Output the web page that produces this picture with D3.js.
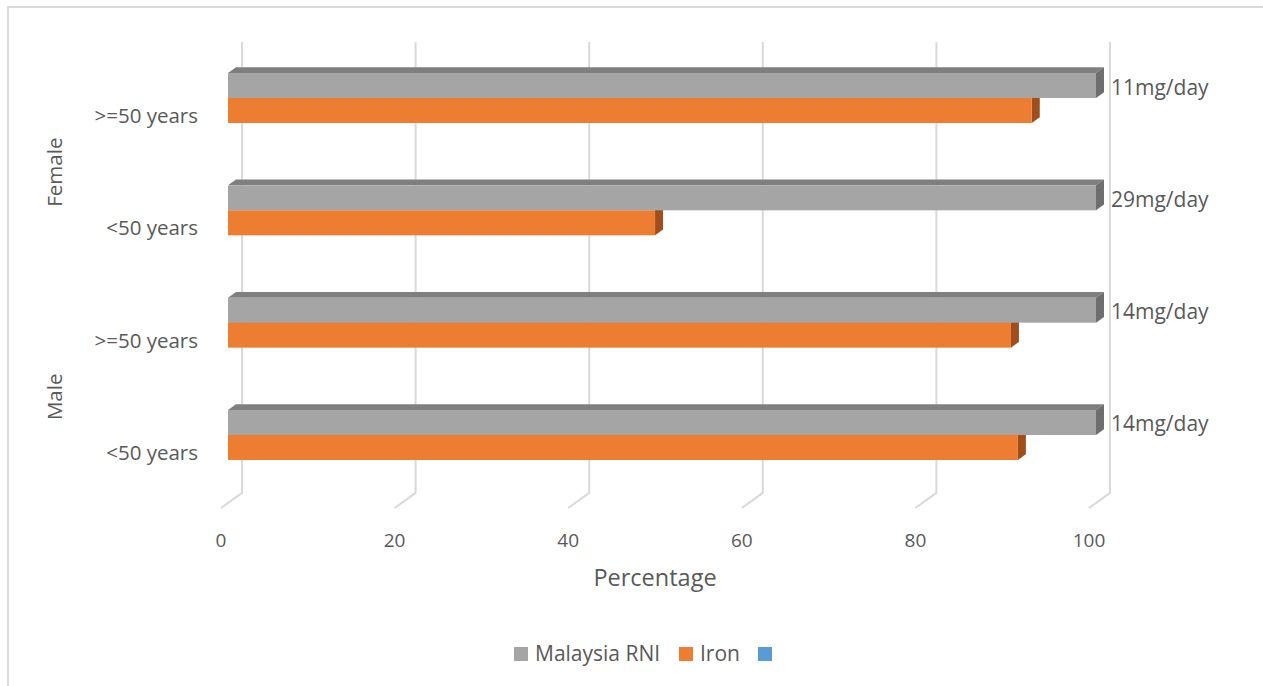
<!DOCTYPE html>
<html>
<head>
<meta charset="utf-8">
<script src="https://cdn.jsdelivr.net/npm/d3@7"></script>
<style>
  html, body { margin: 0; padding: 0; background: #fff; }
  svg { display: block; }
  text { font-family: "Open Sans", Lato, sans-serif; fill: #595959; }
</style>
</head>
<body>
<svg id="chart" width="1263" height="686"></svg>
<script>
// Iron intake vs. Malaysia RNI, by sex and age group
const categories = [">=50 years", "<50 years", ">=50 years", "<50 years"];
const groups = ["Female", "Female", "Male", "Male"];
const rniValues = [100, 100, 100, 100];
const ironValues = [92.6, 49.2, 90.2, 91];
const rniLabels = ["11mg/day", "29mg/day", "14mg/day", "14mg/day"];
const tickValues = [0, 20, 40, 60, 80, 100];
const legendNames = ["Malaysia RNI", "Iron", ""];

const svg = d3.select("#chart");

// chart area frame
svg.append("rect")
  .attr("x", 8).attr("y", 7).attr("width", 1270).attr("height", 700)
  .attr("fill", "none").attr("stroke", "#d9d9d9").attr("stroke-width", 2);

// 3D projection: depth d moves right and up
const slope = 0.72;
const x = d3.scaleLinear().domain([0, 100]).range([221, 1089]);
const barFront = 7, barBack = 15, wall = 21;
const floorY = 508; // front edge of floor

// category bands on the bar-front plane
const y = d3.scaleBand()
  .domain(d3.range(categories.length))
  .range([41.85, 491.15])
  .paddingInner(0.555)
  .paddingOuter(0.2775);
const sub = d3.scaleBand().domain(["rni", "iron"]).range([0, y.bandwidth()]);

// gridlines on back wall + floor
const grid = svg.append("g").attr("stroke", "#d9d9d9").attr("stroke-width", 2).attr("fill", "none");
tickValues.forEach(t => {
  const wallBottom = floorY - wall * slope;
  grid.append("path").attr("d", d3.line()([
    [x(t) + wall, 42], [x(t) + wall, wallBottom], [x(t), floorY]
  ]));
});

// tick labels along the front floor edge
svg.append("g").selectAll("text").data(tickValues).join("text")
  .attr("x", d => x(d)).attr("y", 547)
  .attr("text-anchor", "middle").attr("font-size", 19).text(d => d);

svg.append("text").attr("x", 655).attr("y", 586).attr("text-anchor", "middle")
  .attr("font-size", 23.5).text("Percentage");

// 3D bar helper
function bar(g, v, top, h, cFront, cTop, cSide) {
  const dz = barBack - barFront;
  const x0 = x(0) + barFront, x1 = x(v) + barFront;
  const poly = pts => pts.map(p => p.join(",")).join(" ");
  g.append("polygon").attr("fill", cTop).attr("points", poly([
    [x0, top], [x0 + dz, top - dz * slope], [x1 + dz, top - dz * slope], [x1, top]
  ]));
  g.append("polygon").attr("fill", cSide).attr("points", poly([
    [x1, top], [x1 + dz, top - dz * slope], [x1 + dz, top + h - dz * slope], [x1, top + h]
  ]));
  g.append("rect").attr("x", x0).attr("y", top).attr("width", x1 - x0).attr("height", h)
    .attr("fill", cFront);
}

const bars = svg.append("g");
categories.forEach((c, i) => {
  const g = bars.append("g");
  bar(g, ironValues[i], y(i) + sub("iron"), sub.bandwidth(), "#ed7d31", "#c0601f", "#9e4f1c");
  bar(g, rniValues[i], y(i) + sub("rni"), sub.bandwidth(), "#a5a5a5", "#7f7f7f", "#6e6e6e");
});

// value labels for the RNI series
svg.append("g").selectAll("text").data(rniLabels).join("text")
  .attr("x", 1111).attr("y", (d, i) => y(i) + sub.bandwidth() / 2 + 9)
  .attr("font-size", 21).text(d => d);

// category labels
svg.append("g").selectAll("text").data(categories).join("text")
  .attr("x", 198).attr("y", (d, i) => y(i) + y.bandwidth() / 2 + 25)
  .attr("text-anchor", "end").attr("font-size", 20.5).text(d => d);

// group labels
const groupNames = Array.from(new Set(groups));
groupNames.forEach(gname => {
  const idx = d3.range(groups.length).filter(i => groups[i] === gname);
  const cy = d3.mean(idx, i => y(i) + y.bandwidth() / 2 + 18);
  svg.append("text").attr("transform", `translate(62,${cy}) rotate(-90)`)
    .attr("text-anchor", "middle").attr("font-size", 20.5).text(gname);
});

// legend
const legendColors = ["#a5a5a5", "#ed7d31", "#5b9bd5"];
const legendX = [514, 679, 758];
const lg = svg.append("g");
legendNames.forEach((n, i) => {
  lg.append("rect").attr("x", legendX[i]).attr("y", 647).attr("width", 14).attr("height", 14)
    .attr("fill", legendColors[i]);
  if (n) lg.append("text").attr("x", legendX[i] + 21).attr("y", 661)
    .attr("font-size", 21).text(n);
});
</script>
</body>
</html>
